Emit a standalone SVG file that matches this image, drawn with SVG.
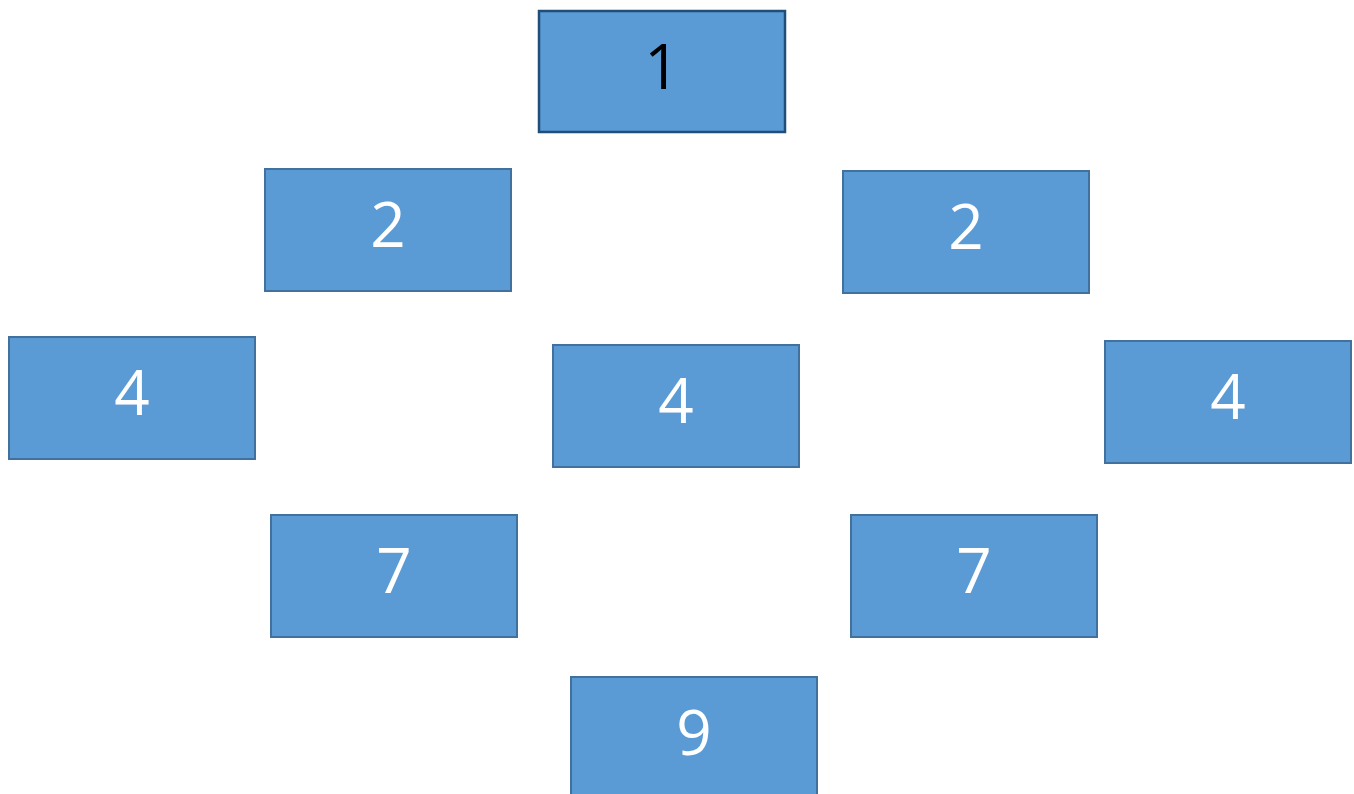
<svg xmlns="http://www.w3.org/2000/svg" width="1354" height="794" viewBox="0 0 1354 794">
<style>
.box{fill:#5b9bd5;stroke:#41719c;stroke-width:2}
.root{fill:#5b9bd5;stroke:#1f4e79;stroke-width:2.5}
.t{font-family:"Open Sans","Liberation Sans",sans-serif;font-size:62px;fill:#ffffff;text-anchor:middle}
.tb{fill:#000000}
</style>
<rect width="1354" height="794" fill="#ffffff"/>
<g id="connectors"></g>
<g id="n1"><rect class="root" x="539" y="11" width="246" height="121"/><text class="t tb" x="662" y="89">1</text></g>
<g id="n2L"><rect class="box" x="265" y="169" width="246" height="122"/><text class="t" x="388" y="247">2</text></g>
<g id="n2R"><rect class="box" x="843" y="171" width="246" height="122"/><text class="t" x="966" y="249">2</text></g>
<g id="n4L"><rect class="box" x="9" y="337" width="246" height="122"/><text class="t" x="132" y="415">4</text></g>
<g id="n4M"><rect class="box" x="553" y="345" width="246" height="122"/><text class="t" x="676" y="423">4</text></g>
<g id="n4R"><rect class="box" x="1105" y="341" width="246" height="122"/><text class="t" x="1228" y="419">4</text></g>
<g id="n7L"><rect class="box" x="271" y="515" width="246" height="122"/><text class="t" x="394" y="593">7</text></g>
<g id="n7R"><rect class="box" x="851" y="515" width="246" height="122"/><text class="t" x="974" y="593">7</text></g>
<g id="n9"><rect class="box" x="571" y="677" width="246" height="130"/><text class="t" x="694" y="755">9</text></g>
</svg>
